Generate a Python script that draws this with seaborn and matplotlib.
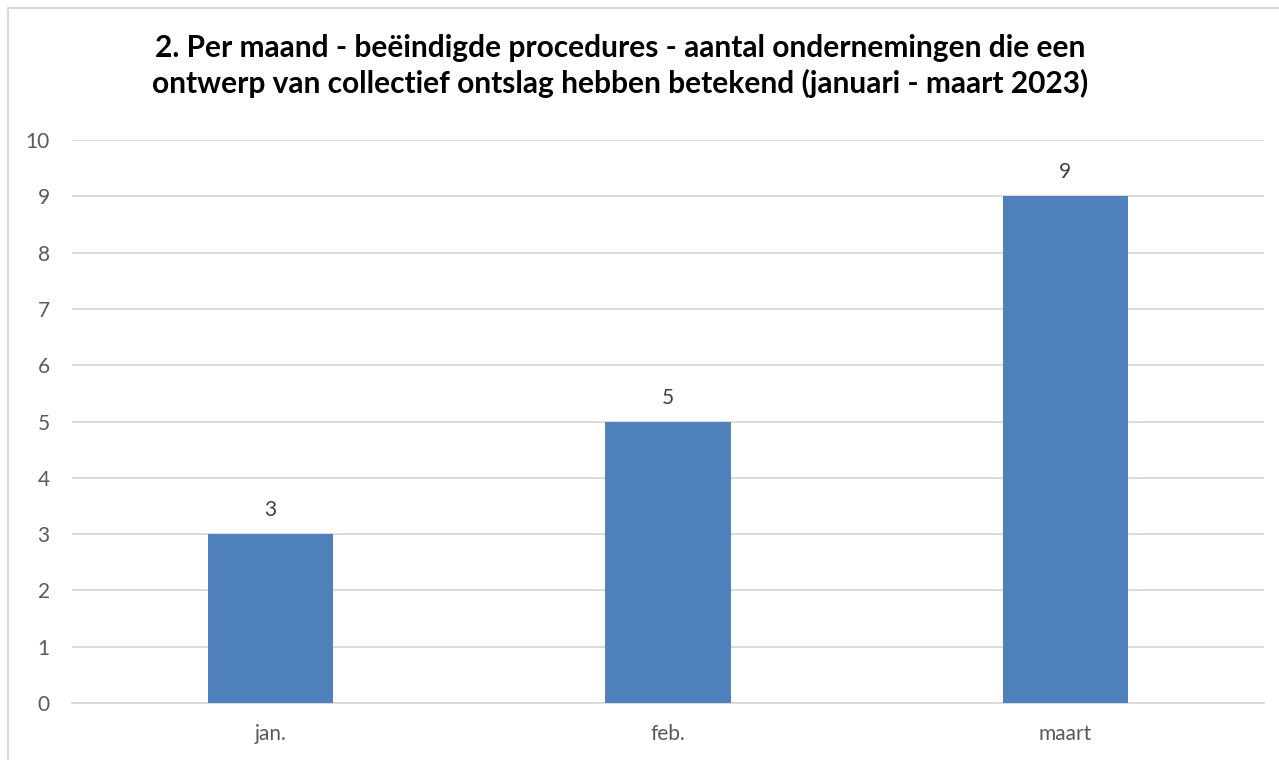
import pandas as pd
import numpy as np
import matplotlib
matplotlib.use("Agg")
import matplotlib.pyplot as plt
from matplotlib.lines import Line2D
import seaborn as sns

sns.set_style("white")
plt.rcParams['font.family'] = ['Lato', 'DejaVu Sans']

# data
months = ['jan.', 'feb.', 'maart']
counts = [3, 5, 9]
title = ("2. Per maand - beëindigde procedures - aantal ondernemingen die een\n"
         "ontwerp van collectief ontslag hebben betekend (januari - maart 2023)")

df = pd.DataFrame({'Maand': months, 'Aantal': counts})

W, H = 1279, 760
fig = plt.figure(figsize=(W / 100, H / 100), dpi=100)
ax = fig.add_axes([72 / W, 1 - 703 / H, (1264 - 72) / W, (703 - 140) / H])

sns.barplot(x='Maand', y='Aantal', data=df, color='#4F81BD', width=0.315,
            saturation=1, linewidth=0, ax=ax, zorder=3)

ax.set_ylim(0, 10)
ax.set_yticks(range(0, 11))
ax.grid(axis='y', color='#D9D9D9', linewidth=1.3, zorder=0)
ax.set_xlabel('')
ax.set_ylabel('')
for s in ['top', 'right', 'left']:
    ax.spines[s].set_visible(False)
ax.spines['bottom'].set_color('#D9D9D9')
ax.spines['bottom'].set_linewidth(1.3)
ax.tick_params(axis='both', length=0, labelsize=15, labelcolor='#595959')
ax.tick_params(axis='y', pad=16)
ax.tick_params(axis='x', pad=15)

for c in ax.containers:
    ax.bar_label(c, padding=10, fontsize=15, color='#404040')

fig.text(620 / W, 1 - 66 / H, title, ha='center', va='center',
         fontsize=21.5, fontweight='bold', color='black', linespacing=1.28)

# chart frame (only left and top edges are inside the picture)
fig.add_artist(Line2D([8 / W, 8 / W], [0, 1 - 8 / H], transform=fig.transFigure,
                      color='#D9D9D9', linewidth=1.5))
fig.add_artist(Line2D([8 / W, 1], [1 - 8 / H, 1 - 8 / H], transform=fig.transFigure,
                      color='#D9D9D9', linewidth=1.5))

fig.savefig('out.png', dpi=100)
